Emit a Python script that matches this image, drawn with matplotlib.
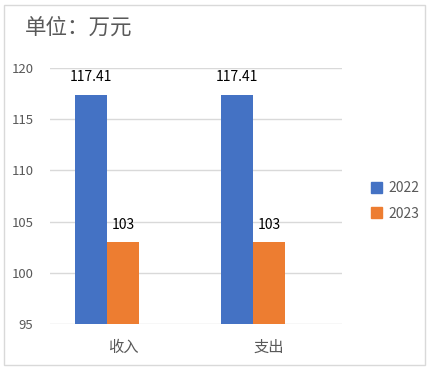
import numpy as np
import matplotlib
matplotlib.use('Agg')
import matplotlib.pyplot as plt
from matplotlib.patches import Rectangle, Patch

plt.rcParams['font.family'] = ['Noto Sans CJK SC', 'DejaVu Sans']

# data
categories = ['收入', '支出']
series = ['2022', '2023']
values_2022 = [117.41, 117.41]
values_2023 = [103, 103]
labels_2022 = ['117.41', '117.41']
labels_2023 = ['103', '103']
colors = ['#4472C4', '#ED7D31']

fig = plt.figure(figsize=(4.32, 3.72), dpi=100)
fig.patches.append(Rectangle((4 / 432, 1 - 365 / 372), 421 / 432, 360 / 372,
                             transform=fig.transFigure, fill=False,
                             edgecolor='#D9D9D9', linewidth=1))

ax = fig.add_axes([50 / 432, 1 - 324 / 372, 292 / 432, 256 / 372])
x = np.arange(len(categories)) + 0.5
w = 0.22
base = 95
b1 = ax.bar(x - w, np.array(values_2022) - base, w, bottom=base, color=colors[0])
b2 = ax.bar(x, np.array(values_2023) - base, w, bottom=base, color=colors[1])

for bars, labs in [(b1, labels_2022), (b2, labels_2023)]:
    for b, t in zip(bars, labs):
        ax.annotate(t, (b.get_x() + b.get_width() / 2, b.get_y() + b.get_height()),
                    xytext=(0, 7.5), textcoords='offset points', ha='center', va='bottom',
                    fontsize=10, color='black')

ax.set_xlim(0, 2)
ax.set_ylim(95, 120)
ax.set_yticks(range(95, 121, 5))
ax.set_xticks(x)
ax.set_xticklabels(categories, fontsize=11, color='#595959')
ax.tick_params(axis='y', labelsize=9.5, labelcolor='#595959', length=0, pad=12)
ax.tick_params(axis='x', length=0, pad=11)
ax.grid(axis='y', color='#D9D9D9', linewidth=1)
ax.set_axisbelow(True)
for s in ax.spines.values():
    s.set_visible(False)

fig.text(25 / 432, 1 - 28 / 372, '单位：万元', fontsize=15.5, color='#595959', va='center', ha='left')

handles = [Patch(color=c) for c in colors]
fig.legend(handles, series, loc='center left', bbox_to_anchor=(358 / 432, 1 - 201 / 372),
           frameon=False, fontsize=10, labelcolor='#595959', handlelength=0.8,
           handleheight=0.8, handletextpad=0.5, labelspacing=0.8)

fig.savefig('out.png', dpi=100)
